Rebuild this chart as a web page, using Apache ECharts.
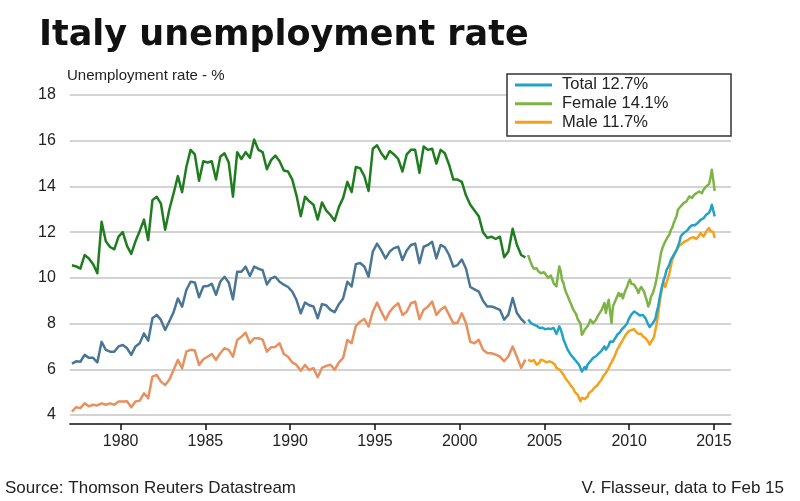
<!DOCTYPE html>
<html><head><meta charset="utf-8">
<script src="https://cdn.jsdelivr.net/npm/echarts@6/dist/echarts.min.js"></script>
<style>html,body{margin:0;padding:0;background:#fff}#c{width:800px;height:501px}</style>
</head><body><div id="c"></div>
<script>
// ---- tick labels ----
const xTickYears = [1980, 1985, 1990, 1995, 2000, 2005, 2010, 2015];
const yMin = 4, yMax = 18, yStep = 2;

// ---- quarterly data 1977Q1 - 2003Q4 (old series) ----
const femaleQ = [
  10.55, 10.5, 10.4, 11.0,
  10.85, 10.6, 10.2, 12.45,
  11.6, 11.35, 11.25, 11.8,
  12.0, 11.4, 11.05, 11.6,
  12.05, 12.55, 11.65, 13.4,
  13.55, 13.25, 12.1, 13.0,
  13.7, 14.45, 13.75, 14.85,
  15.6, 15.4, 14.25, 15.1,
  15.05, 15.1, 14.3, 15.3,
  15.45, 15.05, 13.55, 15.5,
  15.2, 15.5, 15.25, 16.05,
  15.6, 15.5, 14.75, 15.15,
  15.35, 15.1, 14.7, 14.65,
  14.3, 13.6, 12.7, 13.55,
  13.35, 13.2, 12.55, 13.3,
  12.95, 12.75, 12.5, 13.1,
  13.5, 14.2, 13.75, 14.85,
  14.8, 14.45, 13.8, 15.65,
  15.8, 15.45, 15.2, 15.55,
  15.4, 15.2, 14.65, 15.4,
  15.6, 15.6, 14.6, 15.75,
  15.6, 15.65, 15.0, 15.6,
  15.45, 14.95, 14.3, 14.3,
  14.2, 13.6, 13.2, 12.95,
  12.7, 12.0, 11.75, 11.8,
  11.7, 11.8, 10.9, 11.15,
  12.15, 11.45, 11.0, 10.9
];
const totalQ = [
  6.25, 6.35, 6.33, 6.63,
  6.5, 6.5, 6.3, 7.2,
  6.85, 6.77, 6.77, 7.0,
  7.06, 6.92, 6.63, 7.0,
  7.14, 7.57, 7.25, 8.23,
  8.38, 8.16, 7.72, 8.1,
  8.5, 9.1, 8.74, 9.47,
  9.83, 9.8, 9.15, 9.62,
  9.64, 9.74, 9.26, 9.83,
  10.05, 9.8, 9.06, 10.27,
  10.27, 10.49, 10.08, 10.49,
  10.4, 10.34, 9.71, 9.98,
  10.05, 9.83, 9.7, 9.6,
  9.4, 9.03, 8.45, 8.92,
  8.8, 8.75, 8.23, 8.85,
  8.8, 8.6, 8.5, 8.85,
  9.1, 9.83, 9.62, 10.6,
  10.65, 10.5, 10.05, 11.15,
  11.5, 11.2, 10.85, 11.15,
  11.3, 11.36, 10.78, 11.2,
  11.44, 11.5, 10.64, 11.36,
  11.44, 11.58, 10.85, 11.44,
  11.34, 11.0, 10.49, 10.56,
  10.8, 10.4, 9.6, 9.5,
  9.4, 9.0, 8.75, 8.75,
  8.68, 8.6, 8.17, 8.39,
  9.12, 8.46, 8.2, 8.02
];
const maleQ = [
  4.15, 4.34, 4.3, 4.51,
  4.38, 4.45, 4.42, 4.51,
  4.45, 4.51, 4.45, 4.59,
  4.59, 4.6, 4.34, 4.59,
  4.63, 4.95, 4.73, 5.68,
  5.75, 5.46, 5.31, 5.55,
  5.97, 6.41, 6.04, 6.77,
  6.85, 6.82, 6.19, 6.44,
  6.55, 6.67, 6.41, 6.7,
  6.92, 6.85, 6.55, 7.28,
  7.43, 7.6, 7.14, 7.36,
  7.36, 7.3, 6.77, 6.96,
  6.98, 7.14, 6.67, 6.55,
  6.3, 6.19, 5.94, 6.19,
  5.97, 6.05, 5.65, 6.06,
  6.15, 6.2, 5.98, 6.3,
  6.5, 7.28, 7.14, 7.9,
  8.08, 8.2, 7.87, 8.52,
  8.92, 8.52, 8.16, 8.52,
  8.74, 8.89, 8.38, 8.52,
  8.89, 8.96, 8.19, 8.6,
  8.74, 8.96, 8.38, 8.6,
  8.74, 8.38, 8.01, 8.04,
  8.45, 8.01, 7.2, 7.14,
  7.29, 6.85, 6.71, 6.7,
  6.64, 6.55, 6.35, 6.57,
  7.0, 6.55, 6.06, 6.42
];

// ---- monthly data Jan 2004 - Jan 2015 (new series) ----
const femaleM = [
  11.0, 10.8, 10.65, 10.5, 10.4, 10.36, 10.42, 10.3, 10.28, 10.2, 10.14, 10.25,
  10.28, 10.1, 10.0, 9.99, 10.1, 9.95, 9.77, 9.7, 9.63, 10.1, 10.5, 10.3,
  9.9, 9.77, 9.5, 9.34, 9.2, 9.04, 8.9, 8.75, 8.6, 8.62, 8.4, 8.2,
  8.1, 8.0, 7.51, 7.6, 7.73, 7.8, 7.88, 8.0, 8.17, 8.1, 8.02, 8.1,
  8.17, 8.3, 8.4, 8.5, 8.6, 8.75, 8.9, 8.46, 8.8, 9.04, 8.5, 8.02,
  8.75, 8.9, 9.04, 9.1, 9.34, 9.2, 9.3, 9.1, 9.3, 9.48, 9.6, 9.8,
  9.92, 9.75, 9.8, 9.7, 9.65, 9.5, 9.34, 9.5, 9.6, 9.63, 9.4, 9.19,
  9.0, 8.75, 8.9, 9.19, 9.3, 9.48, 9.7, 10.0, 10.36, 10.7, 11.08, 11.3,
  11.45, 11.59, 11.7, 11.81, 11.9, 12.1, 12.2, 12.4, 12.54, 12.7, 12.98, 13.0,
  13.13, 13.2, 13.27, 13.3, 13.34, 13.45, 13.56, 13.5, 13.5, 13.6, 13.64, 13.7,
  13.64, 13.78, 13.85, 13.7, 13.85, 13.9, 14.0, 14.0, 14.1, 14.36, 14.73, 14.3,
  13.8
];
const totalM = [
  8.18, 8.1, 8.02, 7.98, 7.95, 7.92, 7.9, 7.85, 7.81, 7.85, 7.82, 7.8,
  7.75, 7.73, 7.78, 7.8, 7.76, 7.82, 7.81, 7.75, 7.55, 7.7, 7.88, 7.75,
  7.55, 7.3, 7.15, 7.0, 6.85, 6.75, 6.65, 6.57, 6.5, 6.42, 6.35, 6.28,
  6.2, 6.05, 5.9, 6.0, 6.1, 6.0, 6.2, 6.28, 6.35, 6.42, 6.5, 6.55,
  6.57, 6.62, 6.7, 6.78, 6.82, 6.9, 7.0, 6.86, 6.95, 7.05, 7.22, 7.2,
  7.2, 7.3, 7.4, 7.51, 7.55, 7.62, 7.73, 7.78, 7.85, 7.88, 8.0, 8.17,
  8.25, 8.39, 8.45, 8.53, 8.5, 8.45, 8.4, 8.35, 8.31, 8.38, 8.3, 8.24,
  8.1, 7.95, 7.85, 7.8, 8.0, 8.02, 8.2, 8.5, 8.75, 9.1, 9.41, 9.7,
  9.92, 10.1, 10.36, 10.45, 10.6, 10.79, 10.85, 11.0, 11.08, 11.2, 11.38, 11.55,
  11.81, 11.9, 11.96, 12.0, 12.03, 12.1, 12.2, 12.25, 12.3, 12.32, 12.3, 12.35,
  12.4, 12.45, 12.54, 12.5, 12.6, 12.55, 12.76, 12.7, 12.85, 12.98, 13.2, 12.95,
  12.69
];
const maleM = [
  6.42, 6.38, 6.35, 6.38, 6.4, 6.3, 6.2, 6.13, 6.3, 6.42, 6.35, 6.38,
  6.33, 6.3, 6.38, 6.35, 6.28, 6.3, 6.25, 6.2, 6.06, 6.1, 6.0, 5.98,
  5.85, 5.76, 5.65, 5.55, 5.5, 5.4, 5.3, 5.25, 5.15, 5.0, 4.96, 4.89,
  4.85, 4.6, 4.75, 4.82, 4.7, 4.67, 4.8, 4.96, 5.0, 5.05, 5.11, 5.2,
  5.25, 5.3, 5.4, 5.47, 5.55, 5.69, 5.75, 5.84, 5.9, 6.06, 6.2, 6.3,
  6.42, 6.55, 6.7, 6.86, 6.95, 7.08, 7.15, 7.29, 7.4, 7.51, 7.58, 7.66,
  7.66, 7.72, 7.8, 7.75, 7.66, 7.6, 7.55, 7.51, 7.55, 7.45, 7.4, 7.37,
  7.37, 7.2, 7.08, 7.2, 7.29, 7.4, 7.7, 8.02, 8.4, 8.9, 9.3, 9.63,
  9.77, 9.6, 9.8, 10.0, 10.21, 10.5, 10.8, 10.94, 11.1, 11.23, 11.3, 11.4,
  11.45, 11.5, 11.52, 11.6, 11.67, 11.65, 11.67, 11.75, 11.81, 11.78, 11.74, 11.7,
  11.74, 11.85, 11.96, 11.9, 11.81, 11.9, 12.03, 12.1, 12.18, 12.05, 12.1, 12.0,
  11.74
];

const legendNames = ['Total 12.7%', 'Female 14.1%', 'Male 11.7%'];

function qPairs(arr) { return arr.map((v, i) => [1977 + (i + 0.5) / 4, v]); }
function mPairs(arr) { return arr.map((v, i) => [2004 + (i + 0.5) / 12, v]); }

function line(name, data, color, z) {
  return {
    name: name, type: 'line', data: data, showSymbol: false, symbol: 'none',
    z: z || 3, silent: true,
    lineStyle: { color: color, width: 2.5, join: 'round' },
    itemStyle: { color: color }
  };
}

const FONT = '"Liberation Sans", Arial, sans-serif';
const chart = echarts.init(document.getElementById('c'), null, { renderer: 'canvas' });
chart.setOption({
  animation: false,
  backgroundColor: '#ffffff',
  title: {
    text: 'Italy unemployment rate', left: 34, top: 13,
    textStyle: { fontFamily: '"DejaVu Sans", sans-serif', fontWeight: 'bold', fontSize: 35, color: '#111' }
  },
  grid: { left: 69.8, right: 69.1, top: 95, bottom: 86, containLabel: false },
  xAxis: {
    type: 'value', min: 1977, max: 2016, position: 'bottom', offset: 9,
    axisLine: { show: true, lineStyle: { color: '#111', width: 1.5 } },
    axisTick: { show: true, customValues: xTickYears, length: 6, lineStyle: { color: '#111', width: 1.5 } },
    axisLabel: { customValues: xTickYears, formatter: v => String(v), fontFamily: FONT, fontSize: 16, color: '#222', margin: 10 },
    splitLine: { show: false }
  },
  yAxis: {
    type: 'value', min: yMin, max: yMax, interval: yStep,
    axisLine: { show: false }, axisTick: { show: false },
    axisLabel: { fontFamily: FONT, fontSize: 16, color: '#222', margin: 14 },
    splitLine: { lineStyle: { color: '#c4c4c4', width: 1.5 } }
  },
  legend: {
    data: legendNames, orient: 'vertical', left: 515, top: 75.6,
    icon: 'rect', itemWidth: 37, itemHeight: 3, itemGap: 0, padding: 0,
    z: 20, selectedMode: false,
    textStyle: { fontFamily: FONT, fontSize: 16.5, color: '#222', lineHeight: 18.7, padding: [0, 0, 0, 5] }
  },
  graphic: [
    { type: 'rect', z: 15, shape: { x: 507, y: 74, width: 224, height: 62 },
      style: { fill: '#fff', stroke: '#333', lineWidth: 1.5 } },
    { type: 'text', x: 67, y: 76, style: { text: 'Unemployment rate - %', font: '15px "Liberation Sans", Arial', fill: '#222', textVerticalAlign: 'middle' } },
    { type: 'text', x: 5, y: 488, style: { text: 'Source: Thomson Reuters Datastream', font: '17px "Liberation Sans", Arial', fill: '#222', textVerticalAlign: 'middle' } },
    { type: 'text', x: 784, y: 488, style: { text: 'V. Flasseur, data to Feb 15', font: '17px "Liberation Sans", Arial', fill: '#222', textAlign: 'right', textVerticalAlign: 'middle' } }
  ],
  series: [
    line('Female (old)', qPairs(femaleQ), '#1f7d1f'),
    line('Total (old)', qPairs(totalQ), '#4a7696'),
    line('Male (old)', qPairs(maleQ), '#e8915e'),
    line(legendNames[1], mPairs(femaleM), '#7db445'),
    line(legendNames[2], mPairs(maleM), '#f5a11c'),
    line(legendNames[0], mPairs(totalM), '#22a2c9', 4)
  ]
});
</script>
</body></html>
